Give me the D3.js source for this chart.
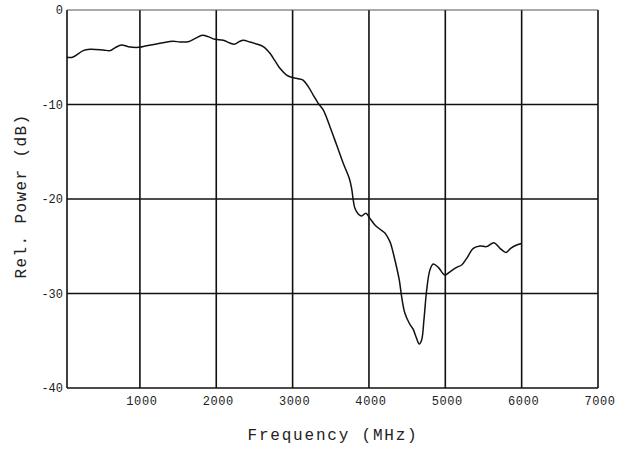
<!DOCTYPE html>
<html>
<head>
<meta charset="utf-8">
<script src="https://cdn.jsdelivr.net/npm/d3@7"></script>
<style>
  html, body { margin: 0; padding: 0; background: #fff; }
  svg { display: block; }
  text { font-family: "Liberation Mono", "DejaVu Sans Mono", monospace; fill: #222; }
</style>
</head>
<body>
<svg id="chart" width="625" height="451"></svg>
<script>
const freqMHz = [43,118,257,345,519,607,672,760,847,978,1087,1262,1436,1524,1633,1720,1821,1894,1982,2091,2179,2235,2300,2353,2441,2528,2615,2703,2768,2834,2921,2987,3074,3131,3205,3270,3336,3401,3489,3577,3663,3742,3773,3794,3816,3860,3904,3960,4013,4078,4144,4209,4253,4284,4340,4397,4428,4471,4528,4580,4616,4659,4690,4720,4756,4799,4842,4908,4995,5061,5149,5214,5280,5367,5454,5541,5637,5716,5795,5856,5935,6000];
const relPowerDb = [-5.0,-5.0,-4.3,-4.16,-4.23,-4.3,-4.0,-3.7,-3.88,-3.95,-3.78,-3.53,-3.3,-3.39,-3.35,-3.03,-2.68,-2.82,-3.1,-3.2,-3.5,-3.62,-3.35,-3.21,-3.39,-3.6,-3.88,-4.58,-5.36,-6.17,-6.88,-7.12,-7.27,-7.4,-8.11,-9.0,-9.88,-10.58,-12.35,-14.29,-16.22,-17.81,-18.87,-20.1,-20.99,-21.59,-21.8,-21.5,-22.05,-22.75,-23.2,-23.6,-24.16,-24.7,-26.46,-28.57,-30.34,-32.1,-33.15,-33.8,-34.57,-35.34,-34.92,-32.8,-29.63,-27.5,-26.88,-27.23,-28.04,-27.7,-27.23,-26.98,-26.28,-25.22,-24.97,-25.04,-24.62,-25.22,-25.65,-25.22,-24.87,-24.7];
const xTicks = [1000,2000,3000,4000,5000,6000,7000];
const xTickLabels = ["1000","2000","3000","4000","5000","6000","7000"];
const yTicks = [0,-10,-20,-30,-40];
const yTickLabels = ["0","-10","-20","-30","-40"];
const xLabel = "Frequency (MHz)";
const yLabel = "Rel. Power (dB)";

const svg = d3.select("#chart");
const x = d3.scaleLinear().domain([45, 7000]).range([67, 598]);
const y = d3.scaleLinear().domain([-40, 0]).range([388, 10]);

const grid = svg.append("g");
// vertical grid lines
grid.selectAll("line.v").data([45].concat(xTicks)).enter().append("line")
  .attr("x1", d => x(d)).attr("x2", d => x(d))
  .attr("y1", y(0)).attr("y2", y(-40))
  .attr("stroke", "#111").attr("stroke-width", 1.6);
// horizontal grid lines
grid.selectAll("line.h").data(yTicks).enter().append("line")
  .attr("x1", x(45)).attr("x2", x(7000))
  .attr("y1", d => y(d)).attr("y2", d => y(d))
  .attr("stroke", d => d === 0 ? "#555" : "#111")
  .attr("stroke-width", d => d === 0 ? 1.1 : 1.6);

// curve
const pts = freqMHz.map((f, i) => [f, relPowerDb[i]]);
const line = d3.line().x(d => x(d[0])).y(d => y(d[1])).curve(d3.curveCatmullRom.alpha(0.5));
svg.append("path").attr("d", line(pts))
  .attr("fill", "none").attr("stroke", "#111").attr("stroke-width", 1.5)
  .attr("stroke-linejoin", "round");

// tick labels
svg.selectAll("text.yt").data(yTicks).enter().append("text")
  .attr("x", 63).attr("y", d => y(d)).attr("dy", "0.35em")
  .attr("text-anchor", "end").attr("font-size", 12)
  .text((d, i) => yTickLabels[i]);
svg.selectAll("text.xt").data(xTicks).enter().append("text")
  .attr("x", d => x(d) + 2).attr("y", 405)
  .attr("text-anchor", "middle").attr("font-size", 12)
  .attr("letter-spacing", 0.6)
  .text((d, i) => xTickLabels[i]);

// axis titles
svg.append("text").attr("x", 333).attr("y", 440)
  .attr("text-anchor", "middle").attr("font-size", 16).attr("letter-spacing", 1.8)
  .text(xLabel);
svg.append("text")
  .attr("transform", "translate(26,196) rotate(-90)")
  .attr("text-anchor", "middle").attr("font-size", 16).attr("letter-spacing", 1.4)
  .text(yLabel);
</script>
</body>
</html>
